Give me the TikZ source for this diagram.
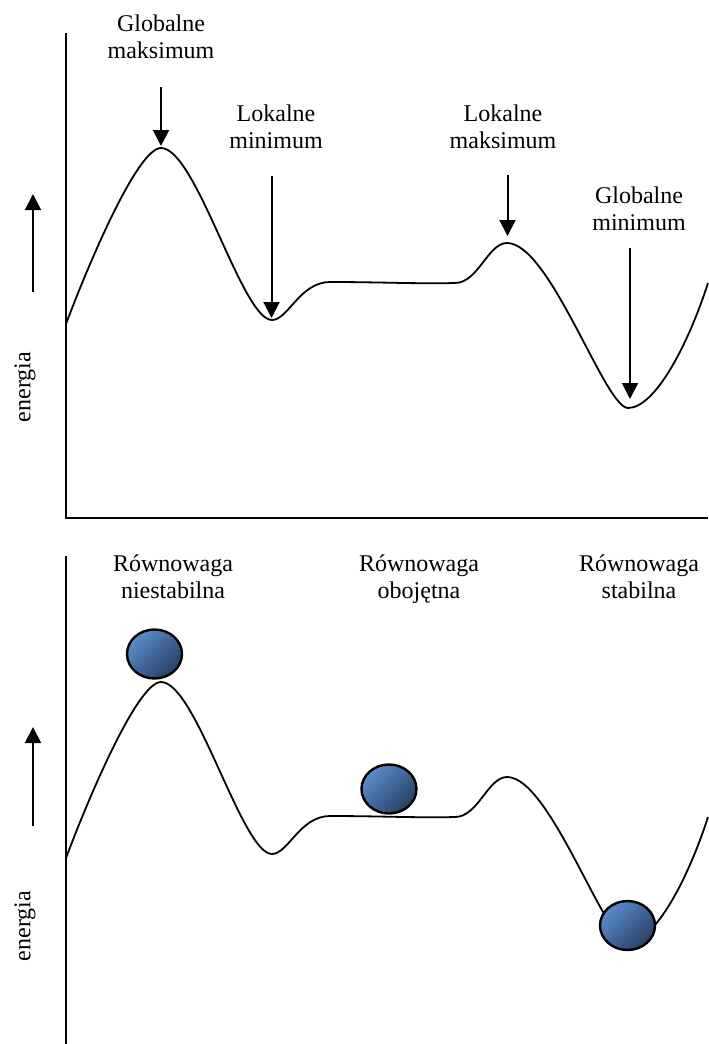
\documentclass[tikz,border=0pt]{standalone}
\usepackage{fontspec}
\setmainfont{Liberation Serif}
\usetikzlibrary{positioning, shapes.geometric, arrows.meta}
\definecolor{ballhi}{RGB}{90,140,205}
\definecolor{balllo}{RGB}{40,64,100}
\tikzset{
    lbl/.style={align=center, font=\fontsize{12}{13.8}\selectfont, inner sep=0pt, anchor=north},
    ylbl/.style={rotate=90, font=\fontsize{12}{13.8}\selectfont, inner sep=0pt},
    axis/.style={line width=1pt},
    curve/.style={line width=0.9pt},
    pointer/.style={line width=1pt, -{Triangle[width=8pt, length=8pt]}},
    ball/.style={ellipse, draw=black, line width=1.2pt, minimum width=27.5pt, minimum height=24.5pt, inner sep=0pt, top color=ballhi, bottom color=balllo, shading angle=45},
}
\newcommand{\energypath}{(66,324) .. controls (90,260) and (138,148) .. (161,148)
    .. controls (196,148) and (242,320) .. (272,320)
    .. controls (288,320) and (300,282) .. (330,282)
    .. controls (380,282) and (420,284) .. (455,283)
    .. controls (478,283) and (488,243) .. (507,243)
    .. controls (550,243) and (605,408) .. (628,408)
    .. controls (655,408) and (688,345) .. (708,283)}

\begin{document}
\begin{tikzpicture}[x=0.5pt, y=-0.5pt]
    \useasboundingbox (0,0) rectangle (708,1044);

    \coordinate (ytop1) at (66,33);
    \coordinate (orig1) at (66,518);
    \coordinate (xend1) at (708,518);
    \draw[axis] (ytop1) -- (orig1) -- (xend1);
    \coordinate (up1a) at (33,292);
    \coordinate (up1b) at (33,194);
    \draw[pointer] (up1a) -- (up1b);
    \node [ylbl] (energy1) at (25,387) {energia};
    \draw[curve] \energypath;

    \node [lbl] (gmaxlbl) at (161,14) {Globalne\\maksimum};
    \node [lbl] (lminlbl) at (276,104) {Lokalne\\minimum};
    \node [lbl] (lmaxlbl) at (503,104) {Lokalne\\maksimum};
    \node [lbl] (gminlbl) at (639,186) {Globalne\\minimum};
    \coordinate (gmaxtop) at (161,87);
    \coordinate (gmax) at (161,146);
    \coordinate (lmintop) at (271.5,176);
    \coordinate (lmin) at (271.5,318);
    \coordinate (lmaxtop) at (507.5,175);
    \coordinate (lmax) at (507.5,236);
    \coordinate (gmintop) at (630,248);
    \coordinate (gmin) at (630,399);
    \draw[pointer] (gmaxtop) -- (gmax);
    \draw[pointer] (lmintop) -- (lmin);
    \draw[pointer] (lmaxtop) -- (lmax);
    \draw[pointer] (gmintop) -- (gmin);

    \coordinate (ytop2) at (66,556);
    \coordinate (ybot2) at (66,1044);
    \draw[axis] (ytop2) -- (ybot2);
    \coordinate (up2a) at (33,826);
    \coordinate (up2b) at (33,727);
    \draw[pointer] (up2a) -- (up2b);
    \node [ylbl] (energy2) at (25,926) {energia};
    \begin{scope}[shift={(0,534)}]
        \draw[curve] \energypath;
    \end{scope}

    \node [lbl] (unstlbl) at (173,554) {Równowaga\\niestabilna};
    \node [lbl] (neutlbl) at (419,554) {Równowaga\\obojętna};
    \node [lbl] (stablbl) at (639,554) {Równowaga\\stabilna};
    \node [ball] (unstball) at (154.5,654) {};
    \node [ball] (neutball) at (389,789) {};
    \node [ball] (stabball) at (627.5,925.5) {};
\end{tikzpicture}
\end{document}
